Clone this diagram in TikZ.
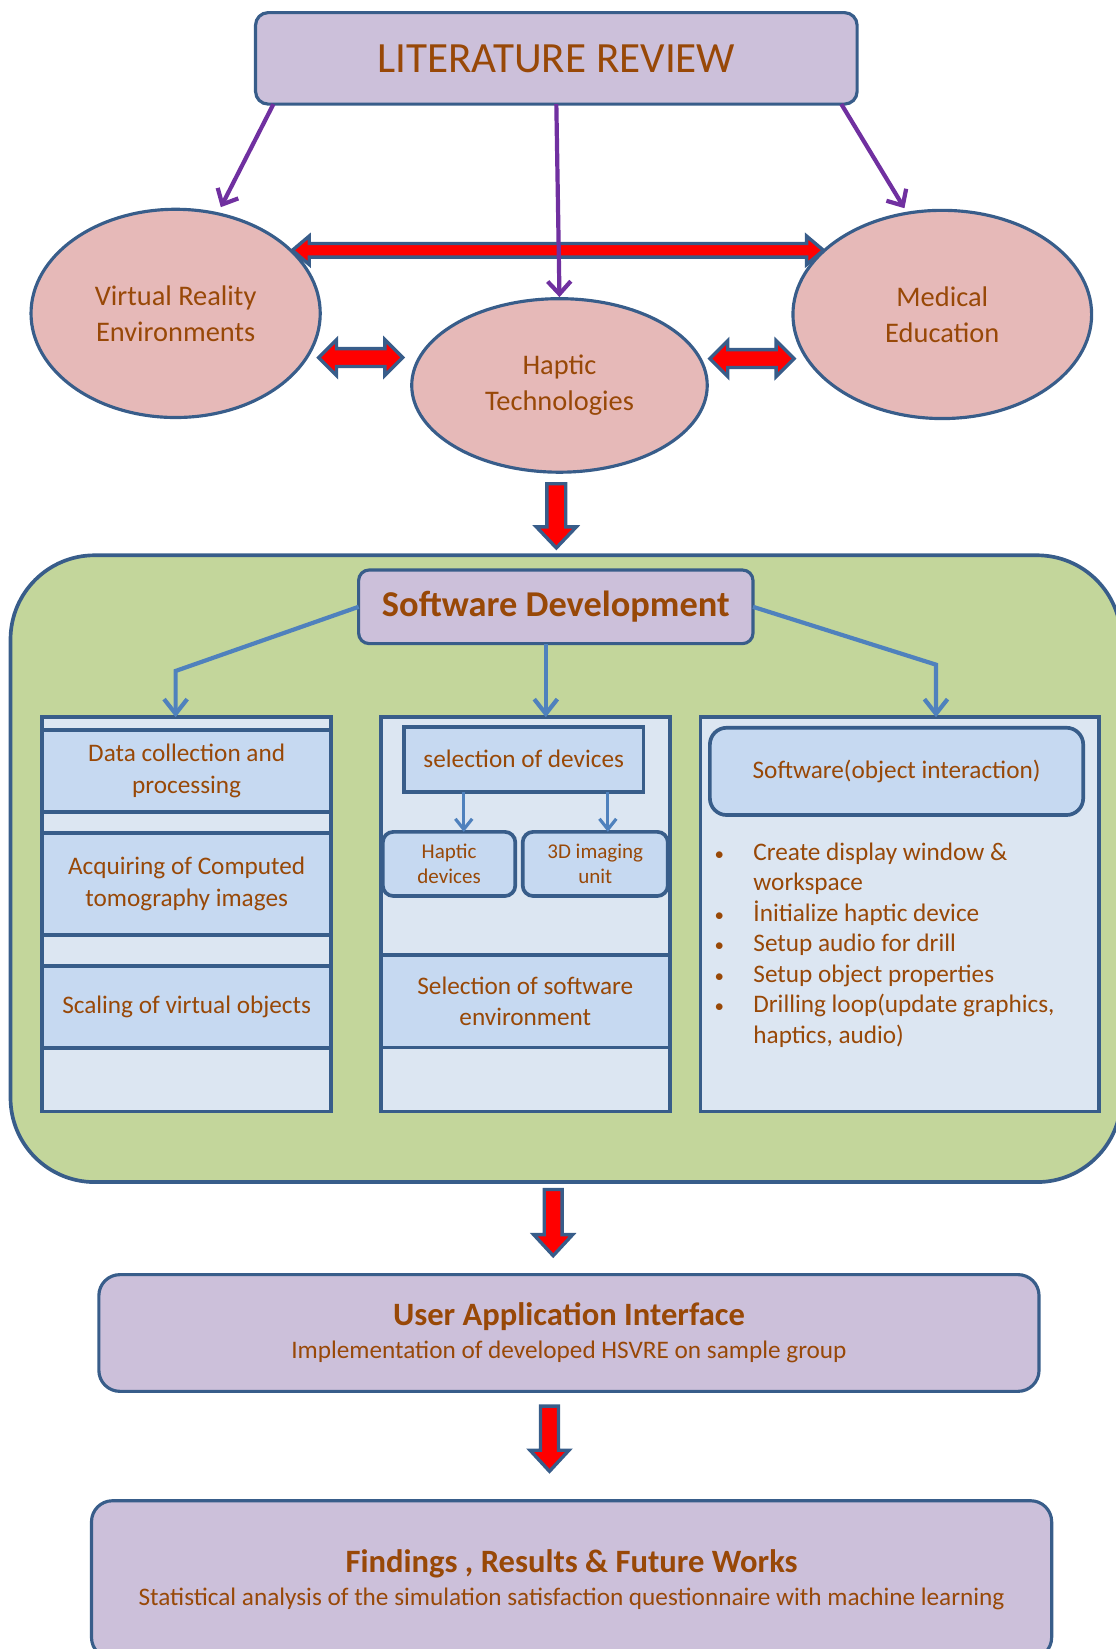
\documentclass[tikz,border=0pt]{standalone}
\usepackage{fontspec}
\setmainfont{Carlito}
\usetikzlibrary{shapes.geometric,arrows.meta,calc}
\definecolor{lav}{HTML}{CCC0DA}
\definecolor{pinkf}{HTML}{E6B9B8}
\definecolor{greenf}{HTML}{C3D69B}
\definecolor{panelf}{HTML}{DCE6F2}
\definecolor{barf}{HTML}{C6D9F1}
\definecolor{bord}{HTML}{385D8A}
\definecolor{bluea}{HTML}{4F81BD}
\definecolor{purp}{HTML}{7030A0}
\definecolor{tx}{HTML}{984807}
\newcommand\hdbl[5]{\draw[redarr] (#1) -- ($(#1)+(#5,-#4)$) -- ($(#1)+(#5,-#3)$) -- ($(#2)+(-#5,-#3)$) -- ($(#2)+(-#5,-#4)$) -- (#2) -- ($(#2)+(-#5,#4)$) -- ($(#2)+(-#5,#3)$) -- ($(#1)+(#5,#3)$) -- ($(#1)+(#5,#4)$) -- cycle;}
\newcommand\vdn[5]{\draw[redarr] ($(#1)+(-#3,0)$) -- ($(#2)+(-#3,-#5)$) -- ($(#2)+(-#4,-#5)$) -- (#2) -- ($(#2)+(#4,-#5)$) -- ($(#2)+(#3,-#5)$) -- ($(#1)+(#3,0)$) -- cycle;}
\newcommand\bul{{\fontsize{9}{10}\selectfont •}}
\begin{document}
\begin{tikzpicture}[x=0.5pt,y=-0.5pt,
  bordl/.style={draw=bord, line width=1.5pt},
  lavbox/.style={bordl, fill=lav, inner sep=0pt, outer sep=0pt, text=tx, align=center},
  ell/.style={bordl, fill=pinkf, ellipse, inner sep=0pt, text=tx, align=center, font=\fontsize{13.5}{17}\selectfont},
  panel/.style={draw=bord, line width=1.75pt, fill=panelf, inner sep=0pt, outer sep=0pt},
  bar/.style={draw=bord, line width=1.75pt, fill=barf, inner sep=0pt, outer sep=0pt, text=tx, align=center, font=\fontsize{12}{15}\selectfont},
  redarr/.style={draw=bord, line width=1.6pt, fill=red, line join=miter},
  purarr/.style={draw=purp, line width=2pt, -{Straight Barb[length=6pt,width=11pt]}},
  bluearr/.style={draw=bluea, line width=2pt, -{Straight Barb[length=7pt,width=11pt]}},
  smallarr/.style={draw=bluea, line width=1.5pt, -{Straight Barb[length=5pt,width=8pt]}}]
\useasboundingbox (0,0) rectangle (1061,1568);

% literature review
\node[lavbox, rounded corners=6pt, minimum width=286pt, minimum height=43.5pt, font=\fontsize{20.5}{24}\selectfont] (lit) at (529,55.5) {LITERATURE REVIEW};

% ellipses
\node[ell, minimum width=137.5pt, minimum height=99pt] (vr) at (167,298) {Virtual Reality\\Environments};
\node[ell, minimum width=142pt, minimum height=99pt] (med) at (896,299) {Medical\\Education};
\node[ell, minimum width=140.5pt, minimum height=82.5pt] (hap) at (532,366.5) {Haptic\\Technologies};

% red double arrows
\coordinate (ta) at (278,238); \coordinate (tb) at (783,238);
\hdbl{ta}{tb}{6.5}{13.5}{16}
\coordinate (la) at (303,340); \coordinate (lb) at (383,340);
\hdbl{la}{lb}{8.5}{17}{17}
\coordinate (ra) at (675,341); \coordinate (rb) at (755,341);
\hdbl{ra}{rb}{8.5}{17}{17}

% purple arrows
\coordinate (p1s) at (260,99); \coordinate (p1e) at (210,197);
\coordinate (p3s) at (800,99); \coordinate (p3e) at (860,198);
\draw[purarr] (p1s) -- (p1e);
\draw[purarr] (lit.south) -- (hap.north);
\draw[purarr] (p3s) -- (p3e);

% down arrow to software block
\coordinate (d1a) at (529,460); \coordinate (d1b) at (529,521);
\vdn{d1a}{d1b}{9}{19}{20}

% green container
\node[draw=bord, line width=1.75pt, fill=greenf, rounded corners=40pt, minimum width=528pt, minimum height=298pt, inner sep=0pt] (sw) at (538,826) {};

% software development
\node[lavbox, rounded corners=5pt, minimum width=187.5pt, minimum height=35pt, font=\bfseries\fontsize{17.3}{20}\selectfont] (sdv) at (528.5,577) {Software Development};

% panels
\node[panel, minimum width=137.5pt, minimum height=187.5pt] (lp) at (177.5,869.5) {};
\node[panel, minimum width=137.5pt, minimum height=187.5pt] (mp) at (499.5,869.5) {};
\node[panel, minimum width=189.5pt, minimum height=187.5pt] (rp) at (855.5,869.5) {};

% left bars
\node[bar, minimum width=137.5pt, minimum height=39pt] (b1) at (177.5,733) {Data collection and\\processing};
\node[bar, minimum width=137.5pt, minimum height=48.5pt] (b2) at (177.5,840.5) {Acquiring of Computed\\tomography images};
\node[bar, minimum width=137.5pt, minimum height=39pt] (b3) at (177.5,957.5) {Scaling of virtual objects};

% middle
\node[bar, minimum width=114pt, minimum height=31pt] (sel) at (498,722) {selection of devices};
\node[bar, rounded corners=5pt, minimum width=63pt, minimum height=30.5pt, font=\fontsize{10}{12}\selectfont] (hd) at (427,821.5) {Haptic\\devices};
\node[bar, rounded corners=5pt, minimum width=69pt, minimum height=30.5pt, font=\fontsize{10}{12}\selectfont] (im) at (566,821.5) {3D imaging\\unit};
\node[bar, minimum width=137.5pt, minimum height=44pt] (se) at (499.5,952) {Selection of software\\environment};
\coordinate (s1) at (441,753); \coordinate (s2) at (578,753);
\draw[smallarr] (s1) -- (s1 |- hd.north);
\draw[smallarr] (s2) -- (s2 |- im.north);

% right
\node[bar, rounded corners=8pt, minimum width=177.5pt, minimum height=41.5pt] (soi) at (852.5,733.5) {Software(object interaction)};
\node[anchor=base west, text=tx, inner sep=0pt, font=\fontsize{12}{14.5}\selectfont] (bl) at (679,818) {\begin{tabular}[t]{@{}p{18.5pt}@{}l@{}}
\bul&Create display window \&\\
&workspace\\
\bul&İnitialize haptic device\\
\bul&Setup audio for drill\\
\bul&Setup object properties\\
\bul&Drilling loop(update graphics,\\
&haptics, audio)
\end{tabular}};

% blue connectors
\coordinate (lk) at (167,638);
\coordinate (rk) at (890,632);
\coordinate (ck) at (519,612);
\draw[bluearr] (sdv.west) -- (lk) -- (lk |- lp.north);
\draw[bluearr] (sdv.east) -- (rk) -- (rk |- rp.north);
\draw[bluearr] (ck) -- (ck |- mp.north);

% down arrows
\coordinate (d2a) at (526,1131); \coordinate (d2b) at (526,1194);
\vdn{d2a}{d2b}{8.5}{18.5}{20}
\coordinate (d3a) at (522.5,1337); \coordinate (d3b) at (522.5,1399);
\vdn{d3a}{d3b}{8.5}{18.5}{20}

% bottom boxes
\node[lavbox, rounded corners=10pt, minimum width=447pt, minimum height=55.5pt] (uai) at (541,1267.5) {{\bfseries\fontsize{15.5}{16}\selectfont User Application Interface}\\[3.5pt]{\fontsize{12}{14}\selectfont Implementation of developed HSVRE on sample group}};
\node[lavbox, rounded corners=10pt, minimum width=456.5pt, minimum height=75pt] (fin) at (543.5,1502) {{\bfseries\fontsize{15.5}{16}\selectfont Findings , Results \& Future Works}\\[3.5pt]{\fontsize{12}{14}\selectfont Statistical analysis of the simulation satisfaction questionnaire with machine learning}};
\end{tikzpicture}
\end{document}
